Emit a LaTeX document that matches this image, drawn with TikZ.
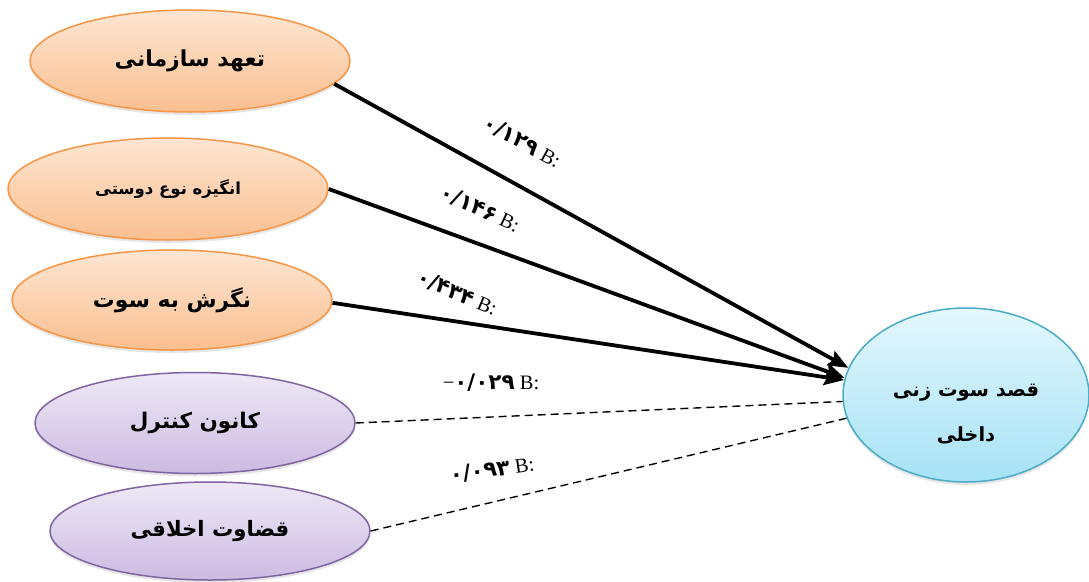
\documentclass[tikz,border=0pt]{standalone}
\usepackage{fontspec}
\setmainfont{Liberation Serif}
\newfontfamily\fa[Script=Arabic]{DejaVu Sans}
\newfontfamily\fanum{DejaVu Sans}
\TeXXeTstate=1
\usetikzlibrary{shapes.geometric,arrows.meta,shadows}
\definecolor{orbd}{HTML}{F79646}
\definecolor{ortop}{HTML}{FDE6D3}
\definecolor{orbot}{HTML}{FABF90}
\definecolor{pubd}{HTML}{8064A2}
\definecolor{putop}{HTML}{EEE8F6}
\definecolor{pubot}{HTML}{CCBBE2}
\definecolor{blbd}{HTML}{4BACC6}
\definecolor{bltop}{HTML}{E4F7FD}
\definecolor{blbot}{HTML}{A6E2F6}
\tikzset{
  ell/.style={ellipse, inner sep=0pt, line width=1.5pt, minimum width=320pt,
    drop shadow={shadow xshift=0pt, shadow yshift=-3pt, opacity=0.2}},
  orell/.style={ell, draw=orbd, top color=ortop, bottom color=orbot},
  puell/.style={ell, draw=pubd, top color=putop, bottom color=pubot},
  blell/.style={ell, draw=blbd, top color=bltop, bottom color=blbot},
  sig/.style={line width=3.8pt, -{Stealth[length=20pt,width=16pt,inset=3pt]}},
  nsig/.style={line width=1.4pt, dash pattern=on 8pt off 5pt},
  lab/.style={inner sep=0pt, font=\fontsize{20.5}{24}\selectfont}
}
\newcommand{\fs}[1]{\fa\bfseries\fontsize{#1}{#1}\selectfont}
\newcommand{\pn}[1]{{\fanum\bfseries\fontsize{21.5}{24}\selectfont #1}}
\begin{document}
\begin{tikzpicture}[x=1pt,y=-1pt]
\useasboundingbox (0,0) rectangle (1089,581);
\node[orell, minimum height=102pt, font=\fs{22}] (e1) at (190,61) {\beginR تعهد سازمانی\endR};
\node[orell, minimum height=102pt, font=\fs{16.5}] (e2) at (168,189) {\beginR انگیزه نوع دوستی\endR};
\node[orell, minimum height=100pt, font=\fs{21.8}] (e3) at (172,300) {\beginR نگرش به سوت\endR};
\node[puell, minimum height=101pt, font=\fs{21.5}] (e4) at (195,423) {\beginR کانون کنترل\endR};
\node[puell, minimum height=98pt, font=\fs{21.2}] (e5) at (210,531) {\beginR قضاوت اخلاقی\endR};
\node[blell, minimum width=246pt, minimum height=174pt, align=center, font=\fs{19.5}] (t) at (966,395) {\rule{0pt}{50pt}\beginR قصد سوت زنی\endR\\[24pt]\beginR داخلی\endR};

\draw[sig] (e1.-9.1) -- (t.167.8);
\draw[sig] (e2.east) -- (t.172);
\draw[sig] (e3.-1) -- (t.173);
\draw[nsig] (e4.east) -- (t.183.7);
\draw[nsig] (e5.east) -- (t.191);

\node[lab, rotate=-29] (l1) at (522,142) {\pn{۰/۱۲۹} B:};
\node[lab, rotate=-25] (l2) at (480,209) {\pn{۰/۱۴۶} B:};
\node[lab, rotate=-23] (l3) at (457,293) {\pn{۰/۴۳۴} B:};
\node[lab] (l4) at (491,383) {−\pn{۰/۰۲۹} B:};
\node[lab, rotate=8] (l5) at (492,470) {\pn{۰/۰۹۳} B:};
\end{tikzpicture}
\end{document}
